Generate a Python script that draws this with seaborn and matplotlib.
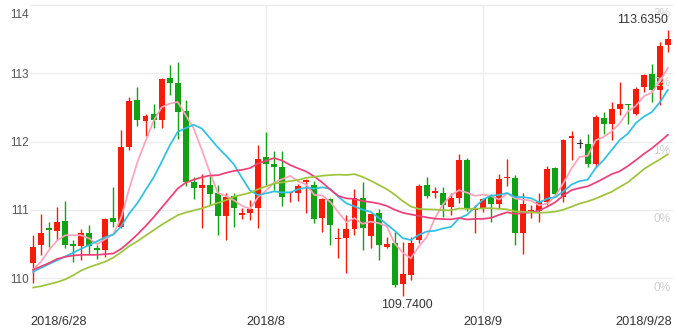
import numpy as np
import pandas as pd
import matplotlib
matplotlib.use("Agg")
import matplotlib.pyplot as plt
import matplotlib.transforms as mtransforms
import seaborn as sns

# ---------------- data ----------------
opens = [110.214, 110.483, 110.736, 110.687, 110.839, 110.497, 110.473, 110.663, 110.444, 110.409,
         110.873, 110.751, 111.922, 112.604, 112.302, 112.400, 112.312, 112.931, 112.858, 112.443,
         111.409, 111.312, 111.370, 111.239, 110.907, 111.204, 110.922, 110.956, 111.020, 111.766,
         111.668, 111.620, 111.248, 111.248, 111.400, 111.361, 110.873, 111.151, 110.566, 110.590,
         110.717, 111.180, 110.614, 110.946, 110.458, 110.507, 109.912, 110.044, 110.556, 111.361,
         111.250, 111.249, 111.044, 111.166, 111.726, 111.000, 111.029, 111.214, 111.083, 111.468,
         111.468, 110.653, 110.980, 110.980, 111.117, 111.619, 111.190, 112.058, 111.961, 111.971,
         111.678, 112.351, 112.263, 112.483, 112.556, 112.410, 112.800, 112.995, 112.751, 113.410]
highs = [110.629, 110.931, 110.824, 111.043, 111.126, 110.556, 110.717, 110.775, 110.483, 110.882,
         111.336, 112.165, 112.653, 112.800, 112.409, 112.556, 112.930, 113.126, 113.165, 112.614,
         111.483, 111.531, 111.497, 111.361, 111.239, 111.239, 111.019, 111.141, 111.956, 112.141,
         111.863, 111.863, 111.260, 111.375, 111.458, 111.424, 111.166, 111.166, 110.727, 110.922,
         111.298, 111.410, 110.940, 111.005, 110.605, 110.678, 110.532, 110.605, 111.385, 111.483,
         111.336, 111.336, 111.239, 111.824, 111.760, 111.068, 111.166, 111.224, 111.531, 111.741,
         111.507, 111.239, 111.068, 111.239, 111.639, 111.629, 112.044, 112.151, 112.044, 112.110,
         112.385, 112.434, 112.580, 112.873, 112.556, 112.800, 112.995, 113.141, 113.458, 113.635]
lows = [109.922, 110.336, 110.458, 110.556, 110.434, 110.239, 110.263, 110.351, 110.273, 110.312,
        110.751, 110.726, 111.873, 112.229, 112.083, 112.200, 112.200, 112.687, 112.044, 111.351,
        111.156, 110.726, 111.068, 110.629, 110.556, 110.751, 110.863, 110.849, 110.727, 111.361,
        111.288, 111.058, 111.117, 111.132, 110.946, 110.800, 110.678, 110.483, 110.288, 110.068,
        110.630, 110.410, 110.434, 110.263, 110.434, 109.873, 109.740, 109.971, 110.517, 111.180,
        111.180, 110.888, 110.922, 111.093, 110.980, 110.653, 110.970, 110.824, 111.019, 111.351,
        110.483, 110.346, 110.873, 110.824, 111.068, 111.190, 111.117, 111.726, 111.898, 111.629,
        111.630, 112.117, 112.029, 112.385, 112.263, 112.385, 112.727, 112.580, 112.532, 113.312]
closes = [110.458, 110.663, 110.702, 110.824, 110.483, 110.468, 110.653, 110.473, 110.409, 110.858,
          110.824, 111.922, 112.590, 112.312, 112.370, 112.312, 112.920, 112.863, 112.434, 111.409,
          111.326, 111.361, 111.224, 110.907, 111.190, 111.019, 110.951, 111.010, 111.751, 111.668,
          111.620, 111.190, 111.258, 111.346, 111.440, 110.858, 111.151, 110.776, 110.590, 110.712,
          111.166, 110.727, 110.936, 110.483, 110.493, 109.898, 110.054, 110.517, 111.346, 111.200,
          111.263, 111.068, 111.180, 111.727, 111.019, 111.030, 111.156, 111.083, 111.458, 111.473,
          110.653, 111.078, 111.000, 111.117, 111.604, 111.224, 112.019, 112.070, 111.961, 111.678,
          112.361, 112.263, 112.483, 112.556, 112.532, 112.776, 112.971, 112.751, 113.395, 113.507]

ma5 = [110.12, 110.24, 110.41, 110.55, 110.626, 110.628, 110.626, 110.580, 110.497, 110.572,
       110.643, 110.897, 111.321, 111.701, 112.004, 112.301, 112.501, 112.555, 112.580, 112.388,
       112.190, 111.879, 111.551, 111.245, 111.202, 111.140, 111.058, 111.015, 111.184, 111.280,
       111.400, 111.448, 111.497, 111.416, 111.371, 111.218, 111.211, 111.114, 110.963, 110.817,
       110.879, 110.794, 110.826, 110.805, 110.761, 110.507, 110.373, 110.289, 110.462, 110.603,
       110.876, 111.079, 111.211, 111.288, 111.251, 111.205, 111.222, 111.203, 111.149, 111.240,
       111.165, 111.149, 111.132, 111.064, 111.090, 111.205, 111.393, 111.607, 111.776, 111.790,
       112.018, 112.067, 112.149, 112.268, 112.439, 112.522, 112.664, 112.717, 112.885, 113.080]
ma10 = [110.09, 110.15, 110.205, 110.26, 110.315, 110.37, 110.43, 110.483, 110.54, 110.599,
        110.636, 110.762, 110.950, 111.099, 111.288, 111.472, 111.699, 111.938, 112.141, 112.196,
        112.246, 112.190, 112.053, 111.913, 111.795, 111.665, 111.468, 111.283, 111.215, 111.241,
        111.270, 111.253, 111.256, 111.300, 111.325, 111.309, 111.329, 111.306, 111.190, 111.094,
        111.049, 111.002, 110.970, 110.884, 110.789, 110.693, 110.584, 110.558, 110.633, 110.682,
        110.692, 110.726, 110.750, 110.875, 110.927, 111.040, 111.151, 111.207, 111.218, 111.246,
        111.185, 111.186, 111.168, 111.107, 111.165, 111.185, 111.271, 111.370, 111.420, 111.440,
        111.611, 111.730, 111.878, 112.022, 112.115, 112.270, 112.365, 112.433, 112.577, 112.760]
ma20 = [110.12, 110.17, 110.22, 110.28, 110.31, 110.33, 110.34, 110.34, 110.34, 110.35,
        110.36, 110.43, 110.53, 110.64, 110.76, 110.89, 111.03, 111.17, 111.31, 111.397,
        111.441, 111.476, 111.502, 111.506, 111.541, 111.569, 111.584, 111.611, 111.678, 111.718,
        111.758, 111.721, 111.655, 111.606, 111.560, 111.487, 111.399, 111.294, 111.202, 111.167,
        111.159, 111.128, 111.113, 111.092, 111.057, 111.001, 110.956, 110.932, 110.911, 110.888,
        110.870, 110.864, 110.860, 110.879, 110.858, 110.867, 110.867, 110.882, 110.926, 110.964,
        110.938, 110.956, 110.959, 110.991, 111.046, 111.113, 111.211, 111.288, 111.319, 111.343,
        111.398, 111.458, 111.523, 111.564, 111.640, 111.727, 111.818, 111.901, 111.998, 112.100]
ma30 = [109.86, 109.88, 109.91, 109.94, 109.98, 110.04, 110.11, 110.16, 110.20, 110.24,
        110.30, 110.38, 110.47, 110.54, 110.62, 110.70, 110.78, 110.85, 110.92, 110.96,
        110.99, 111.02, 111.06, 111.10, 111.14, 111.19, 111.22, 111.25, 111.30, 111.345,
        111.384, 111.401, 111.420, 111.437, 111.469, 111.482, 111.499, 111.509, 111.515, 111.510,
        111.522, 111.482, 111.427, 111.366, 111.303, 111.223, 111.127, 111.049, 111.013, 111.006,
        111.004, 110.994, 110.992, 111.020, 111.014, 111.014, 111.021, 111.024, 111.014, 111.007,
        110.975, 110.971, 110.963, 110.955, 110.961, 110.973, 111.002, 111.045, 111.091, 111.123,
        111.163, 111.214, 111.265, 111.334, 111.402, 111.498, 111.596, 111.670, 111.738, 111.815]

date_labels = ["2018/6/28", "2018/8", "2018/9", "2018/9/28"]
date_label_idx = [0, 29, 56, 79]
y_ticks = [110, 111, 112, 113, 114]
pct_labels = ["0%", "0%", "1%", "2%", "3%"]   # right-hand labels, bottom to top
high_label = "113.6350"
low_label = "109.7400"

# ---------------- style ----------------
sns.set_theme(style="white")
plt.rcParams["font.family"] = ["Liberation Sans", "DejaVu Sans"]

UP = "#f71c0a"
DOWN = "#12a112"
FLAT = "#333333"
ma_colors = {"MA5": "#ffa3bb", "MA10": "#2ec0e2", "MA20": "#ee3f78", "MA30": "#9dc43a"}

W, H = 678, 329
fig = plt.figure(figsize=(W / 100, H / 100), dpi=100)
ax = fig.add_axes([30 / W, 1 - 313 / H, (672 - 30) / W, (313 - 5) / H])

n = len(closes)
idx = np.arange(n)
o = np.array(opens); c = np.array(closes); hi = np.array(highs); lo = np.array(lows)
colors = [UP if cc > oo else (DOWN if cc < oo else FLAT) for oo, cc in zip(o, c)]

xl, xr = -0.37, 79.5
ax.set_xlim(xl, xr)
ax.set_ylim(109.488, 114.0)

# grid
for yv in y_ticks:
    ax.axhline(yv, color="#ececec", lw=1.0, zorder=0, clip_on=False)
for xi in date_label_idx[1:3]:
    ax.axvline(xi, color="#ececec", lw=1.0, zorder=0)

# candles
ax.vlines(idx, lo, hi, colors=colors, lw=1.0, zorder=2)
body_bottom = np.minimum(o, c)
body_h = np.maximum(np.abs(c - o), 0.018)
ax.bar(idx, body_h, bottom=body_bottom, width=0.74, color=colors, linewidth=0, zorder=2.1)

# moving averages
df = pd.DataFrame({
    "idx": np.concatenate([idx] * 4),
    "val": np.concatenate([ma5, ma10, ma20, ma30]),
    "ma": ["MA5"] * n + ["MA10"] * n + ["MA20"] * n + ["MA30"] * n,
})
sns.lineplot(data=df, x="idx", y="val", hue="ma", palette=ma_colors, legend=False,
             linewidth=1.25, ax=ax, sort=False, zorder=3)

# axes styling
for s in ax.spines.values():
    s.set_visible(False)
ax.set_xlabel("")
ax.set_ylabel("")
ax.set_yticks(y_ticks)
ax.set_yticklabels([str(v) for v in y_ticks])
ax.tick_params(axis="y", length=0, pad=1, labelsize=8.4, labelcolor="#555555")
# top label sits a little below its grid line, as in the reference
top_lab = ax.get_yticklabels()[-1]
top_lab.set_transform(top_lab.get_transform() +
                      mtransforms.ScaledTranslation(0, -8 / 100, fig.dpi_scale_trans))

ax.set_xticks([xl, date_label_idx[1], date_label_idx[2], xr])
ax.set_xticklabels(date_labels)
ax.tick_params(axis="x", length=0, pad=2.5, labelsize=9.2, labelcolor="#333333")
xt = ax.get_xticklabels()
xt[0].set_ha("left")
xt[-1].set_ha("right")

# right-hand percent labels
trans = ax.get_yaxis_transform()
for yv, lab in zip(y_ticks, pct_labels):
    ax.annotate(lab, xy=(1.0, yv), xycoords=trans, xytext=(-1, -2.5), textcoords="offset points",
                ha="right", va="top", fontsize=8.6, color="#cfcfcf", annotation_clip=False)

# high / low labels
ax.annotate(high_label, xy=(n - 1, hi[-1]), xytext=(0, 2.5), textcoords="offset points",
            ha="right", va="bottom", fontsize=8.9, color="#333333")
imin = int(np.argmin(lo))
ax.annotate(low_label, xy=(imin, lo[imin]), xytext=(3, -2.5), textcoords="offset points",
            ha="center", va="top", fontsize=8.9, color="#333333")

fig.savefig("out.png", dpi=100)
